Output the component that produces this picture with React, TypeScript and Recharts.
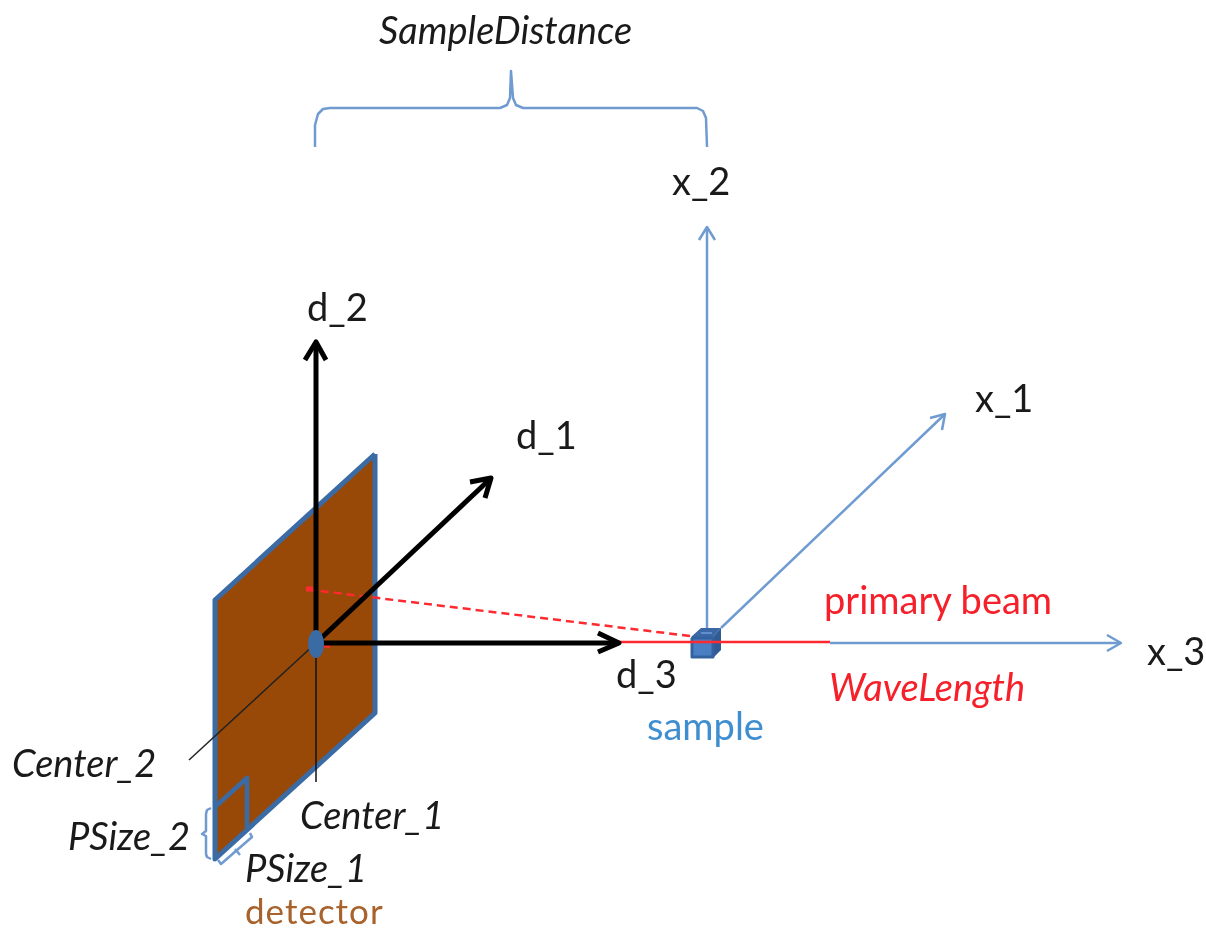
import React from 'react';
import { ComposedChart, Area, Line, Scatter, XAxis, YAxis } from 'recharts';

const WIDTH = 1206;
const HEIGHT = 931;

// the picture is a diagram, so the axes just run along the picture itself
type Pt = [number, number];

// detector plate and the pixel drawn in its corner
const detectorBand = [
  { x: 215, band: [859, 600] },
  { x: 375, band: [713, 454] },
];
const detectorOutline: Pt[] = [[375, 454], [215, 600], [215, 859], [375, 713], [375, 454]];
const pixelOutline: Pt[] = [[216, 806], [247, 778], [247, 828]];

// sample cube faces
const cubeFront = [
  { x: 691, band: [658, 637] },
  { x: 713, band: [658, 637] },
];
const cubeTop = [
  { x: 691, band: [637, 637] },
  { x: 701, band: [637, 628] },
  { x: 713, band: [637, 628] },
  { x: 721, band: [628, 628] },
];
const cubeSide = [
  { x: 713, band: [658, 637] },
  { x: 721, band: [650, 628] },
];
const cubeFrontEdge: Pt[] = [[692, 638], [692, 657], [713, 657], [713, 638], [692, 638]];
const cubeTopMark: Pt[] = [[701, 633], [712, 633]];

const centerLine1: Pt[] = [[316, 643], [316, 782]];
const centerLine2: Pt[] = [[316, 643], [189, 760]];

const d2Axis: Pt[] = [[316, 643], [316, 344]];
const d2Head: Pt[] = [[305, 360], [316, 342], [326, 360]];
const d1Axis: Pt[] = [[316, 643], [489, 480]];
const d1Head: Pt[] = [[470, 482], [491, 478], [485, 498]];
const d3Axis: Pt[] = [[316, 643], [617, 643]];
const d3Head: Pt[] = [[598, 633], [619, 643], [598, 652]];

const x2Axis: Pt[] = [[707, 628], [707, 228]];
const x2Head: Pt[] = [[699, 240], [707, 227], [715, 240]];
const x1Axis: Pt[] = [[721, 628], [944, 415]];
const x1Head: Pt[] = [[930, 418], [945, 414], [942, 430]];
const x3Axis: Pt[] = [[830, 643], [1120, 643]];
const x3Head: Pt[] = [[1107, 635], [1121, 643], [1107, 651]];

const beamLine: Pt[] = [[619, 642], [830, 642]];
const scatterDashed: Pt[] = [[690, 636], [312, 590]];
const scatterHead: Pt[] = [[306, 589], [313, 589]];
const centerHead: Pt[] = [[322, 645], [330, 646]];

const sampleDistanceBrace: Pt[] = [
  [315, 147], [315, 125], [318, 114], [323, 109], [330, 108], [500, 108], [507, 105], [510, 98], [511, 71],
  [513, 98], [516, 105], [523, 108], [697, 108], [703, 111], [706, 118], [707, 147],
];
const psize2Brace: Pt[] = [
  [211, 808], [207, 810], [206, 814], [206, 831], [202, 834], [206, 836], [206, 854], [207, 857], [211, 859],
];
const psize1Brace: Pt[] = [[218, 860], [221, 864], [252, 837], [250, 833]];
const psize1Tick: Pt[] = [[235, 849], [240, 855]];

const centerDot = [{ x: 316, y: 644 }];

const labelTexts = [
  'SampleDistance', 'x_2', 'd_2', 'd_1', 'x_1', 'x_3', 'primary beam', 'WaveLength',
  'd_3', 'sample', 'Center_2', 'PSize_2', 'Center_1', 'PSize_1', 'detector',
];
const labelX = [379, 672, 307, 516, 975, 1147, 824, 829, 616, 647, 12, 68, 300, 245, 245];
const labelY = [44, 195, 321, 449, 412, 665, 614, 701, 688, 740, 777, 850, 829, 882, 924];

const italicLabels = ['SampleDistance', 'WaveLength', 'Center_2', 'PSize_2', 'Center_1', 'PSize_1'];
const LABEL_COLORS: Record<string, string> = {
  'primary beam': '#f5202a',
  WaveLength: '#f5202a',
  sample: '#3f8fd0',
  detector: '#a8622c',
};

const BLUE = '#6f9bd1';
const EDGE = '#3b6ba5';
const BLACK = '#000000';
const RED = '#ff2a30';

const labelRows = labelTexts.map((text, i) => ({ x: labelX[i], y: labelY[i], text }));
const rows = (pts: Pt[]) => pts.map(([x, y]) => ({ x, y }));

const stroke = (pts: Pt[], color: string, width: number, dash?: string) => (
  <Line
    key={`${color}-${pts[0].join('-')}-${pts[pts.length - 1].join('-')}`}
    data={rows(pts)}
    dataKey="y"
    type="linear"
    stroke={color}
    strokeWidth={width}
    strokeDasharray={dash}
    strokeLinejoin="round"
    dot={false}
    activeDot={false}
    legendType="none"
    isAnimationActive={false}
  />
);

const LabelText = (props: any) => {
  const text = props.payload.text;
  // detector sits right on the bottom edge, so it is a bit smaller and spaced out
  const isDetector = text === 'detector';
  return (
    <text
      x={props.cx}
      y={props.cy}
      fontFamily="Lato, 'Open Sans', sans-serif"
      fontSize={isDetector ? 35 : 38}
      letterSpacing={isDetector ? 1 : 0}
      fontStyle={italicLabels.includes(text) ? 'italic' : 'normal'}
      fill={LABEL_COLORS[text] || '#1a1a1a'}
    >
      {text}
    </text>
  );
};

const CenterEllipse = (props: any) => <ellipse cx={props.cx} cy={props.cy} rx={8} ry={14} fill={EDGE} />;

export default function App() {
  return (
    <div style={{ position: 'absolute', left: 0, top: 0, width: WIDTH, height: HEIGHT, background: '#fff', filter: 'blur(0.6px)' }}>
      <ComposedChart width={WIDTH} height={HEIGHT} margin={{ top: 0, right: 0, bottom: 0, left: 0 }}>
        <XAxis dataKey="x" type="number" domain={[0, WIDTH]} hide />
        <YAxis dataKey="y" type="number" domain={[0, HEIGHT]} reversed hide width={0} />

        <Area data={detectorBand} dataKey="band" type="linear" fill="#984807" fillOpacity={1} stroke="none" dot={false} activeDot={false} isAnimationActive={false} />
        {stroke(detectorOutline, EDGE, 5)}
        {stroke(pixelOutline, EDGE, 4.5)}
        {stroke(centerLine2, '#222222', 1.5)}
        {stroke(centerLine1, '#111111', 1.5)}

        {stroke(x2Axis, BLUE, 2.5)}
        {stroke(x2Head, BLUE, 2.5)}
        {stroke(x1Axis, BLUE, 2.5)}
        {stroke(x1Head, BLUE, 2.5)}
        {stroke(x3Axis, BLUE, 2.5)}
        {stroke(x3Head, BLUE, 2.5)}
        {stroke(sampleDistanceBrace, BLUE, 2.5)}
        {stroke(psize2Brace, BLUE, 2.5)}
        {stroke(psize1Brace, BLUE, 2.5)}
        {stroke(psize1Tick, BLUE, 2.5)}

        <Area data={cubeFront} dataKey="band" type="linear" fill="#4a7fc4" fillOpacity={1} stroke="none" dot={false} activeDot={false} isAnimationActive={false} />
        <Area data={cubeTop} dataKey="band" type="linear" fill="#3a68a6" fillOpacity={1} stroke="none" dot={false} activeDot={false} isAnimationActive={false} />
        <Area data={cubeSide} dataKey="band" type="linear" fill="#2f5a94" fillOpacity={1} stroke="none" dot={false} activeDot={false} isAnimationActive={false} />
        {stroke(cubeFrontEdge, '#34629f', 3)}
        {stroke(cubeTopMark, '#5f8fcc', 2)}

        <Scatter data={centerDot} shape={CenterEllipse} isAnimationActive={false} />
        {stroke(beamLine, RED, 2.5)}
        {stroke(scatterDashed, RED, 2.5, '8 5')}
        {stroke(scatterHead, RED, 5)}
        {stroke(centerHead, RED, 4)}

        {stroke(d2Axis, BLACK, 5)}
        {stroke(d2Head, BLACK, 5)}
        {stroke(d1Axis, BLACK, 5)}
        {stroke(d1Head, BLACK, 5)}
        {stroke(d3Axis, BLACK, 5)}
        {stroke(d3Head, BLACK, 5)}

        <Scatter data={labelRows} shape={LabelText} isAnimationActive={false} />
      </ComposedChart>
    </div>
  );
}
